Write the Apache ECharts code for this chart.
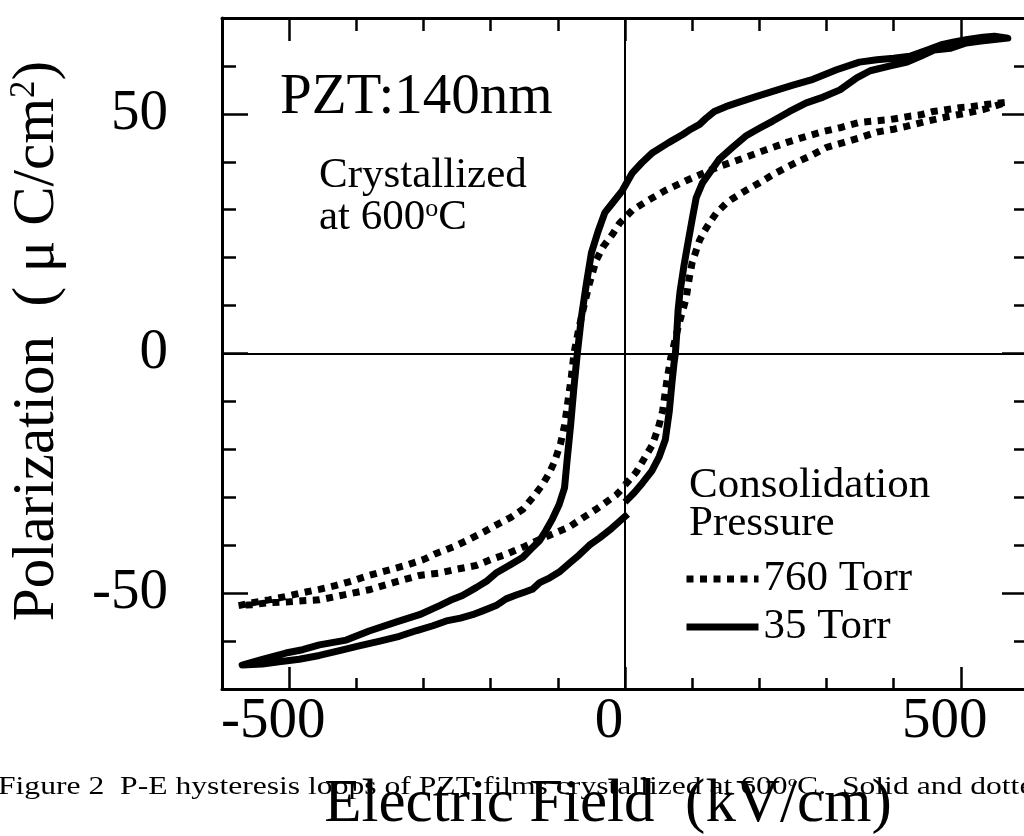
<!DOCTYPE html>
<html><head><meta charset="utf-8">
<script src="https://cdn.jsdelivr.net/npm/echarts@6/dist/echarts.min.js"></script>
<style>html,body{margin:0;padding:0;background:#fff;overflow:hidden}#c{width:1024px;height:836px}</style>
</head><body><div id="c"></div>
<script>
const seriesNames = ['760 Torr', '35 Torr'];
const xMajorTicks = [-500, 0, 500];
const yMajorTicks = [-50, 0, 50];

// 760 Torr (dotted): start near E=0, up to +max, down to -max, back to 0
const torr760 = [
[0,-27.4],[17,-24.7],[32,-21.1],[41,-19],[51,-14.8],[56,-12],[62,-6],[68,-1],[74,2.5],[80,6],[86,9],[91,11.5],[96,16],[100,19],[106,21.5],[111,23.6],[118,25.5],[126,27.3],[136,29.3],[151,31.4],[160,32.3],[181,34.1],[200,35.6],[220,37.3],[241,38.9],[260,40.2],[280,41.5],[300,43],[325,44],[349,45],[375,46.2],[400,46.8],[419,47.4],[450,48.5],[483,49.5],[510,50.2],[533,50.9],[550,51.6],[568,52.4],
[540,52],[515,51.5],[498,51.3],[475,50.8],[459,50.5],[440,49.8],[424,49.5],[394,48.8],[370,48.5],[349,48.2],[320,47.1],[295,46.3],[270,45.3],[240,44],[210,42.5],[185,41.2],[161,40],[140,39],[121,37.9],[90,36],[61,34.1],[35,32],[11,29.9],[-8,27.2],[-18,25],[-33,22.2],[-43,19.4],[-53,14.6],[-61,10],[-69,5],[-76,0],[-80,-5],[-85,-10],[-90,-15],[-96,-18.8],[-105,-22.6],[-113,-25],[-123,-27.4],[-137,-30],[-152,-32.5],[-170,-34.2],[-192,-35.8],[-210,-37.2],[-232,-38.8],[-255,-40.3],[-281,-41.7],[-300,-43],[-326,-44.2],[-355,-45.3],[-381,-46.3],[-405,-47.4],[-430,-48.4],[-455,-49.2],[-480,-49.9],[-505,-50.7],[-530,-51.4],[-555,-52],[-575,-52.6],
[-555,-52.4],[-530,-52],[-500,-51.8],[-480,-51.6],[-455,-51.4],[-420,-50.4],[-381,-49.3],[-345,-47.8],[-306,-46.3],[-276,-45.8],[-250,-45],[-221,-44.2],[-200,-43],[-177,-41.9],[-150,-40.3],[-127,-38.8],[-105,-37.5],[-83,-36.2],[-65,-34.5],[-43,-32.5],[-28,-31],[-13,-29.5],[0,-27.6]
];

// 35 Torr (solid)
const torr35 = [
[0,-31],[14,-29],[26,-27],[40,-24.5],[51,-21.5],[60,-18],[66,-12],[70,-6],[73,-2],[75,0],[77,4],[79,9],[82,13],[88,18.5],[93,22.5],[100,28],[106,32.5],[115,35.5],[125,37.5],[140,40.5],[160,43],[181,45.5],[200,47],[220,48.5],[245,50.5],[270,52.3],[295,53.5],[320,55],[345,57.5],[365,59],[395,60],[420,60.8],[440,62],[460,63.3],[485,63.7],[508,64.8],[530,65.2],[550,65.5],[570,65.8],
[550,66.2],[533,66],[510,65.5],[490,65],[473,64.5],[450,63.3],[424,62],[400,61.6],[375,61.3],[349,60.8],[315,59.2],[280,57.2],[250,56],[220,54.7],[195,53.6],[171,52.5],[150,51.5],[133,50.5],[120,49],[111,47.8],[98,46.8],[86,45.7],[65,44],[41,41.9],[25,39.8],[11,37.7],[-4,34],[-18,31.5],[-30,29.4],[-40,25.5],[-50,21],[-57,15],[-65,7.5],[-71,0],[-76,-7],[-81,-15],[-86,-22],[-90,-28],[-98,-31.5],[-108,-34.5],[-118,-37],[-127,-39],[-140,-40.8],[-152,-42.5],[-170,-44],[-192,-45.8],[-205,-47.4],[-221,-48.8],[-242,-50.5],[-260,-51.5],[-276,-52.6],[-306,-54.5],[-340,-56],[-381,-57.9],[-415,-59.8],[-455,-60.8],[-480,-61.8],[-505,-62.5],[-540,-63.8],[-570,-65],
[-540,-64.8],[-515,-64.3],[-485,-63.8],[-455,-63],[-425,-62],[-396,-61],[-365,-60],[-336,-59],[-310,-57.8],[-286,-56.8],[-266,-55.8],[-245,-55.2],[-227,-54.5],[-210,-53.6],[-192,-52.6],[-177,-51.2],[-162,-50.4],[-150,-49.8],[-138,-49.2],[-127,-47.8],[-112,-46.8],[-98,-45.6],[-83,-43.8],[-68,-42],[-53,-40],[-38,-38.5],[-20,-36.5],[-8,-35],[4,-33.5]
];

const xTitle = 'Electric Field  (kV/cm)';
const yTitle = 'Polarization  ( \u03bc C/cm{s|2})';
const sampleLabel = 'PZT:140nm';
const processLines = ['Crystallized', 'at 600{s|o}C'];
const legendTitle = ['Consolidation', 'Pressure'];
const caption = 'Figure 2  P-E hysteresis loops of PZT films crystallized at 600{s|o}C.  Solid and dotted lines show';

const F = "'Liberation Serif', 'Times New Roman', serif";
const BLACK = '#000';

function xAx(position, len, custom, showLine, labels) {
  const tick = {show: true, inside: true, length: len, lineStyle: {color: BLACK, width: 2.5}};
  if (custom) tick.customValues = xMajorTicks;
  return {
    type: 'value', position, min: -600, max: 600, interval: 100,
    axisLine: {show: showLine, onZero: false, lineStyle: {color: BLACK, width: 3}},
    axisTick: tick,
    axisLabel: labels ? {show: true, formatter: v => xMajorTicks.includes(v) ? String(v) : '',
      fontSize: 57, fontFamily: F, color: BLACK, margin: 5, padding: [0, 32, 0, 0]} : {show: false},
    splitLine: {show: false}
  };
}
function yAx(position, len, custom, showLine, labels) {
  const tick = {show: true, inside: true, length: len, lineStyle: {color: BLACK, width: 2.5}};
  if (custom) tick.customValues = yMajorTicks;
  return {
    type: 'value', position, min: -70, max: 70, interval: 10,
    axisLine: {show: showLine, onZero: false, lineStyle: {color: BLACK, width: 3}},
    axisTick: tick,
    axisLabel: labels ? {show: true, formatter: v => yMajorTicks.includes(v) ? String(v) : '',
      fontSize: 57, fontFamily: F, color: BLACK, margin: 54} : {show: false},
    splitLine: {show: false}
  };
}

function txt(x, y, text, size, extra, align) {
  const a = align || 'left';
  return Object.assign({
    type: 'text', x, y, silent: true,
    style: {text, fontSize: size, fontFamily: F, fill: BLACK,
      align: a, verticalAlign: 'middle', textAlign: a, textVerticalAlign: 'middle',
      rich: {s: {fontSize: Math.round(size * 0.6), fontFamily: F, fill: BLACK, verticalAlign: 'top'}}}
  }, extra || {});
}

const chart = echarts.init(document.getElementById('c'), null, {renderer: 'canvas'});
chart.setOption({
  animation: false,
  backgroundColor: '#fff',
  grid: {left: 222, top: 18, width: 806, height: 671, containLabel: false, outerBoundsMode: 'none'},
  xAxis: [
    xAx('bottom', 11, false, true, true),
    xAx('bottom', 22, true, false, false),
    xAx('top', 13, false, true, false),
    xAx('top', 23, true, false, false)
  ],
  yAxis: [
    yAx('left', 14, false, true, true),
    yAx('left', 26, true, false, false),
    yAx('right', 14, false, true, false),
    yAx('right', 26, true, false, false)
  ],
  legend: {
    orient: 'vertical', left: 683, top: 557, padding: 0,
    itemWidth: 72, itemHeight: 14, itemGap: 4,
    data: seriesNames,
    textStyle: {fontSize: 43, fontFamily: F, color: BLACK, lineHeight: 44},
    lineStyle: {width: 7},
    itemStyle: {opacity: 0, borderWidth: 0}
  },
  series: [
    {
      name: seriesNames[1], type: 'line', data: torr35, xAxisIndex: 0, yAxisIndex: 0,
      symbol: 'none', showSymbol: false, smooth: false,
      lineStyle: {color: BLACK, width: 7, type: 'solid', cap: 'butt', join: 'round'},
      itemStyle: {color: BLACK},
      markLine: {
        silent: true, symbol: ['none', 'none'], label: {show: false},
        lineStyle: {color: BLACK, width: 2, type: 'solid'},
        emphasis: {disabled: true},
        data: [{xAxis: 0}, {yAxis: 0}]
      }
    },
    {
      name: seriesNames[0], type: 'line', data: torr760, xAxisIndex: 0, yAxisIndex: 0,
      symbol: 'none', showSymbol: false, smooth: false,
      lineStyle: {color: BLACK, width: 7, type: [7, 6.5], cap: 'butt', join: 'miter'},
      itemStyle: {color: BLACK}
    }
  ],
  graphic: [
    txt(280, 98, sampleLabel, 57),
    txt(319, 176, processLines[0], 43),
    txt(319, 218, processLines[1], 43),
    txt(689, 486, legendTitle[0], 43),
    txt(689, 524, legendTitle[1], 43),
    txt(-2, 787, caption, 25, {scaleX: 1.265, scaleY: 1}),
    txt(608, 805, xTitle, 61, null, 'center'),
    txt(37, 341, yTitle, 59, {rotation: Math.PI / 2}, 'center')
  ]
});
</script>
</body></html>
